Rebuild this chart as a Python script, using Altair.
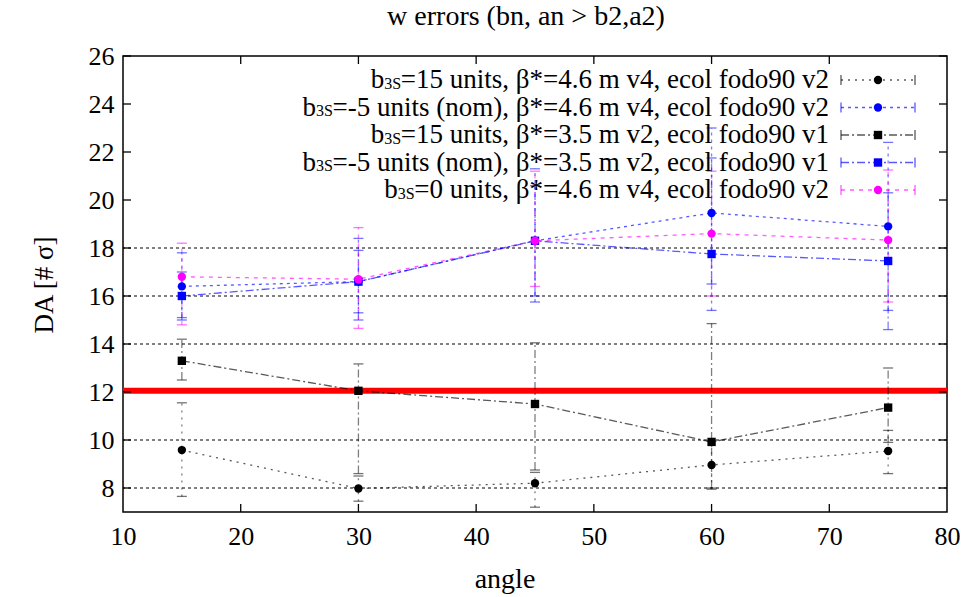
import altair as alt
import pandas as pd

# ---------------- data ----------------
angles = [15, 30, 45, 60, 75]

s1_y = [9.58, 7.98, 8.20, 8.96, 9.54]
s1_lo = [7.65, 7.45, 7.20, 7.95, 8.60]
s1_hi = [11.55, 8.50, 8.65, 9.95, 10.40]

s2_y = [16.40, 16.60, 18.30, 19.46, 18.90]
s2_lo = [15.10, 15.30, 15.75, 15.40, 15.40]
s2_hi = [17.80, 18.40, 21.30, 23.00, 22.40]

s3_y = [13.30, 12.05, 11.50, 9.92, 11.35]
s3_lo = [12.50, 8.60, 8.75, 8.00, 9.90]
s3_hi = [14.20, 13.17, 14.05, 14.85, 13.00]

s4_y = [16.00, 16.60, 18.30, 17.75, 17.46]
s4_lo = [15.00, 15.00, 16.00, 16.50, 14.60]
s4_hi = [17.00, 17.90, 20.60, 21.75, 20.30]

s5_y = [16.80, 16.70, 18.30, 18.60, 18.33]
s5_lo = [14.80, 14.65, 16.40, 16.00, 15.75]
s5_hi = [18.20, 18.85, 21.20, 21.20, 21.25]

series_names = ["s1", "s2", "s3", "s4", "s5"]
legend_main = [
    "=15 units, β*=4.6 m v4, ecol fodo90 v2",
    "=-5 units (nom), β*=4.6 m v4, ecol fodo90 v2",
    "=15 units, β*=3.5 m v2, ecol fodo90 v1",
    "=-5 units (nom), β*=3.5 m v2, ecol fodo90 v1",
    "=0 units, β*=4.6 m v4, ecol fodo90 v2",
]
threshold = [12.05]
grid_vals = [8, 10, 12, 14, 16, 18]
x_ticks = [10, 20, 30, 40, 50, 60, 70, 80]
y_ticks = [8, 10, 12, 14, 16, 18, 20, 22, 24, 26]
title_text = "w errors (bn, an > b2,a2)"

# ---------------- styles ----------------
colors = ["#000000", "#0000ff", "#000000", "#0000ff", "#ff00ff"]
dashes = [[2, 5], [3, 4], [8, 3, 2, 3], [8, 3, 2, 3], [4, 5]]
shapes = ["circle", "circle", "square", "square", "circle"]
sizes = [70, 70, 140, 140, 80]
FONT = "Liberation Serif"
W, H = 824, 456

rows = []
for name, ys, lo, hi in zip(series_names, [s1_y, s2_y, s3_y, s4_y, s5_y],
                            [s1_lo, s2_lo, s3_lo, s4_lo, s5_lo],
                            [s1_hi, s2_hi, s3_hi, s4_hi, s5_hi]):
    for a, v, l, h in zip(angles, ys, lo, hi):
        rows.append(dict(series=name, angle=a, y=v, lo=l, hi=h))
df = pd.DataFrame(rows)

xs = alt.Scale(domain=[10, 80], nice=False, zero=False)
ysc = alt.Scale(domain=[7, 26], nice=False, zero=False)
col = alt.Color("series:N", scale=alt.Scale(domain=series_names, range=colors), legend=None)
dsh = alt.StrokeDash("series:N", scale=alt.Scale(domain=series_names, range=dashes), legend=None)
shp = alt.Shape("series:N", scale=alt.Scale(domain=series_names, range=shapes), legend=None)
siz = alt.Size("series:N", scale=alt.Scale(domain=series_names, range=sizes), legend=None)

X = alt.X("angle:Q", scale=xs, axis=alt.Axis(values=x_ticks, ticks=False, domain=False, grid=False,
                                             title=None, labelFont=FONT, labelFontSize=26,
                                             labelColor="black", labelPadding=11, labelFlush=False,
                                             labelOverlap=False))
Y = alt.Y("y:Q", scale=ysc, axis=alt.Axis(values=y_ticks, ticks=False, domain=False, grid=False,
                                          title=None, labelFont=FONT, labelFontSize=26,
                                          labelColor="black", labelPadding=9, labelFlush=False,
                                          labelOverlap=False))

base = alt.Chart(df)

grid = alt.Chart(pd.DataFrame({"g": grid_vals})).mark_rule(
    color="black", strokeDash=[3, 3], strokeWidth=1).encode(y=alt.Y("g:Q", scale=ysc))
red = alt.Chart(pd.DataFrame({"r": threshold})).mark_rule(
    color="#ff0000", strokeWidth=6).encode(y=alt.Y("r:Q", scale=ysc))

lines = base.mark_line(strokeWidth=1.3, opacity=0.65).encode(x=X, y=Y, color=col, strokeDash=dsh)
err = base.mark_rule(strokeWidth=1.3, opacity=0.5).encode(
    x=alt.X("angle:Q", scale=xs), y=alt.Y("lo:Q", scale=ysc), y2="hi:Q", color=col, strokeDash=dsh)
cap_lo = base.mark_rule(strokeWidth=1.3, opacity=0.55, xOffset=-5, x2Offset=5).encode(
    x=alt.X("angle:Q", scale=xs), x2="angle:Q", y=alt.Y("lo:Q", scale=ysc), color=col)
cap_hi = base.mark_rule(strokeWidth=1.3, opacity=0.55, xOffset=-5, x2Offset=5).encode(
    x=alt.X("angle:Q", scale=xs), x2="angle:Q", y=alt.Y("hi:Q", scale=ysc), color=col)
pts = base.mark_point(filled=True, opacity=1).encode(
    x=alt.X("angle:Q", scale=xs), y=alt.Y("y:Q", scale=ysc), color=col, shape=shp, size=siz)

# ---------------- inward ticks ----------------
xt = pd.DataFrame({"t": x_ticks[1:-1]})
yt = pd.DataFrame({"t": y_ticks})
tick_x_bot = alt.Chart(xt).mark_rule(color="black", strokeWidth=1.3).encode(
    x=alt.X("t:Q", scale=xs), y=alt.value(H - 8), y2=alt.value(H))
tick_x_top = alt.Chart(xt).mark_rule(color="black", strokeWidth=1.3).encode(
    x=alt.X("t:Q", scale=xs), y=alt.value(0), y2=alt.value(8))
tick_y_l = alt.Chart(yt).mark_rule(color="black", strokeWidth=1.3).encode(
    y=alt.Y("t:Q", scale=ysc), x=alt.value(0), x2=alt.value(8))
tick_y_r = alt.Chart(yt).mark_rule(color="black", strokeWidth=1.3).encode(
    y=alt.Y("t:Q", scale=ysc), x=alt.value(W - 8), x2=alt.value(W))

# ---------------- legend ----------------
tw = {" ": .25, "=": .564, "-": .333, ",": .25, ".": .25, "(": .333, ")": .333, "*": .5,
      "β": .5, "u": .5, "n": .5, "i": .278, "t": .278, "s": .389, "m": .778, "v": .5,
      "e": .444, "c": .444, "o": .5, "l": .278, "f": .333, "d": .5}
for dgt in "0123456789":
    tw[dgt] = .5
FS = 27
FSS = 16


def px2x(px):
    return 10 + px / W * 70


def px2y(py):
    return 26 - py / H * 19


row_px = [24, 51.5, 79, 106.5, 134]
text_right = 706
leg = []
for i, (name, txt) in enumerate(zip(series_names, legend_main)):
    w_main = sum(tw.get(ch, .5) for ch in txt) * FS
    w_sub = (0.5 + 0.556) * FSS
    leg.append(dict(series=name, main=txt, sub="3S", b="b",
                    xm=px2x(text_right), xs_=px2x(text_right - w_main),
                    xb=px2x(text_right - w_main - w_sub),
                    ly=px2y(row_px[i]), ly_sub=px2y(row_px[i] + 3.5),
                    l1=px2x(718), l2=px2x(792), lm=px2x(755)))
ldf = pd.DataFrame(leg)
lbase = alt.Chart(ldf)
leg_main = lbase.mark_text(align="right", baseline="middle", font=FONT, fontSize=FS, color="black").encode(
    x=alt.X("xm:Q", scale=xs), y=alt.Y("ly:Q", scale=ysc), text="main:N")
leg_sub = lbase.mark_text(align="right", baseline="middle", font=FONT, fontSize=FSS, color="black").encode(
    x=alt.X("xs_:Q", scale=xs), y=alt.Y("ly_sub:Q", scale=ysc), text="sub:N")
leg_b = lbase.mark_text(align="right", baseline="middle", font=FONT, fontSize=FS, color="black").encode(
    x=alt.X("xb:Q", scale=xs), y=alt.Y("ly:Q", scale=ysc), text="b:N")
leg_line = lbase.mark_rule(strokeWidth=1.3, opacity=0.65).encode(
    x=alt.X("l1:Q", scale=xs), x2="l2:Q", y=alt.Y("ly:Q", scale=ysc), color=col, strokeDash=dsh)
leg_cap1 = lbase.mark_rule(strokeWidth=1.3, opacity=0.65, yOffset=-5, y2Offset=5).encode(
    x=alt.X("l1:Q", scale=xs), y=alt.Y("ly:Q", scale=ysc), y2="ly:Q", color=col)
leg_cap2 = lbase.mark_rule(strokeWidth=1.3, opacity=0.65, yOffset=-5, y2Offset=5).encode(
    x=alt.X("l2:Q", scale=xs), y=alt.Y("ly:Q", scale=ysc), y2="ly:Q", color=col)
leg_pt = lbase.mark_point(filled=True, opacity=1).encode(
    x=alt.X("lm:Q", scale=xs), y=alt.Y("ly:Q", scale=ysc), color=col, shape=shp, size=siz)

# ---------------- titles ----------------
one = pd.DataFrame({"t": [title_text], "xl": ["angle"], "yl": ["DA [# σ]"]})
title_mark = alt.Chart(one).mark_text(font=FONT, fontSize=28, color="black", baseline="middle").encode(
    x=alt.value(403), y=alt.value(-39), text="t:N")
xlab = alt.Chart(one).mark_text(font=FONT, fontSize=28, color="black", baseline="middle").encode(
    x=alt.value(382), y=alt.value(524), text="xl:N")
ylab = alt.Chart(one).mark_text(font=FONT, fontSize=27, color="black", baseline="middle", angle=270).encode(
    x=alt.value(-78), y=alt.value(229), text="yl:N")

chart = alt.layer(
    grid, red, lines, err, cap_lo, cap_hi, pts,
    tick_x_bot, tick_x_top, tick_y_l, tick_y_r,
    leg_line, leg_cap1, leg_cap2, leg_pt, leg_main, leg_sub, leg_b,
    title_mark, xlab, ylab,
).properties(
    width=W, height=H,
    autosize=alt.AutoSizeParams(type="none"),
    padding={"left": 123, "top": 56, "right": 32, "bottom": 85},
    background="white",
).configure_view(stroke="black", strokeWidth=1.5)

chart.save("out.html", embed_options={"renderer": "svg", "actions": False})
